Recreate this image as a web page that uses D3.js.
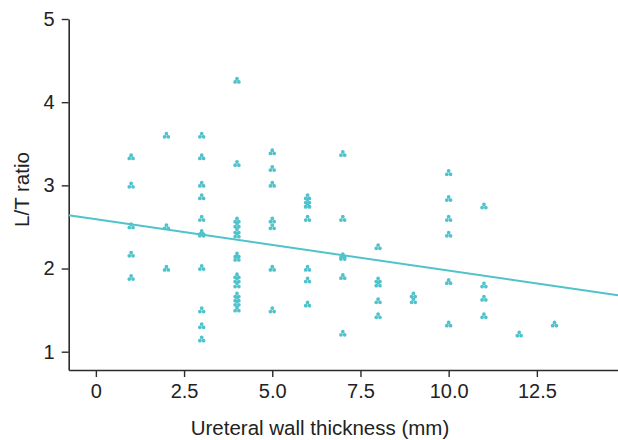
<!DOCTYPE html>
<html>
<head>
<meta charset="utf-8">
<script src="https://cdn.jsdelivr.net/npm/d3@7"></script>
<style>
  html, body { margin: 0; padding: 0; background: #fff; }
  svg text { font-family: "Liberation Sans", Arial, sans-serif; fill: #222; }
</style>
</head>
<body>
<svg id="chart" width="618" height="440"></svg>
<script>
// thickness (mm) and L/T ratio, one entry per patient
const thickness = [
  1, 1, 1, 1, 1,
  2, 2, 2,
  3, 3, 3, 3, 3, 3, 3, 3, 3, 3, 3,
  4, 4, 4, 4, 4, 4, 4, 4, 4, 4, 4, 4, 4, 4, 4,
  5, 5, 5, 5, 5, 5, 5,
  6, 6, 6, 6, 6, 6, 6, 6,
  7, 7, 7, 7, 7, 7,
  8, 8, 8, 8, 8,
  9, 9,
  10, 10, 10, 10, 10, 10,
  11, 11, 11, 11,
  12,
  13
];
const ltRatio = [
  3.34, 3.0, 2.51, 2.17, 1.89,
  3.6, 2.5, 2.0,
  3.6, 3.34, 3.01, 2.86, 2.6, 2.43, 2.41, 2.01, 1.5, 1.31, 1.15,
  4.26, 3.26, 2.58, 2.52, 2.45, 2.40, 2.16, 2.12, 1.91, 1.86, 1.80, 1.68, 1.63, 1.58, 1.51,
  3.4, 3.2, 3.01, 2.58, 2.5, 2.0, 1.5,
  2.86, 2.81, 2.76, 2.6, 2.0, 1.86, 1.57, 2.76,
  3.38, 2.6, 2.15, 2.13, 1.9, 1.22,
  2.26, 1.86, 1.81, 1.61, 1.43,
  1.68, 1.61,
  3.15, 2.84, 2.6, 2.41, 1.84, 1.33,
  2.75, 1.8, 1.64, 1.43,
  1.21,
  1.33
];
// fitted line: intercept and slope
const fitIntercept = 2.592;
const fitSlope = -0.0617;

const xTicks = [0, 2.5, 5, 7.5, 10, 12.5];
const xTickLabels = ["0", "2.5", "5.0", "7.5", "10.0", "12.5"];
const yTicks = [1, 2, 3, 4, 5];

const teal = "#4fc3cb";
const axisColor = "#2b2b2b";

const svg = d3.select("#chart");

const x = d3.scaleLinear().domain([-0.77, 14.8]).range([68.7, 618]);
const y = d3.scaleLinear().domain([0.78, 5]).range([370, 19]);

// x axis
const xAxis = svg.append("g")
  .attr("transform", `translate(0,${y.range()[0]})`)
  .call(d3.axisBottom(x).tickValues(xTicks)
    .tickFormat((d, i) => xTickLabels[i])
    .tickSize(7).tickSizeOuter(0).tickPadding(7));

// y axis
const yAxis = svg.append("g")
  .attr("transform", `translate(${x.range()[0]},0)`)
  .call(d3.axisLeft(y).tickValues(yTicks)
    .tickFormat(d3.format("d"))
    .tickSize(7).tickSizeOuter(0).tickPadding(7));

[xAxis, yAxis].forEach(a => {
  a.select(".domain").attr("stroke", axisColor).attr("stroke-width", 1.6);
  a.selectAll(".tick line").attr("stroke", axisColor).attr("stroke-width", 1.4);
  a.selectAll(".tick text").style("font-size", "20px").attr("fill", "#222");
});

// regression line
const fitLine = d3.line().x(d => x(d)).y(d => y(fitIntercept + fitSlope * d));
svg.append("path")
  .datum(x.domain())
  .attr("d", fitLine)
  .attr("fill", "none")
  .attr("stroke", teal)
  .attr("stroke-width", 2);

// club-shaped marker, three small lobes
const club = {
  draw(ctx, size) {
    const r = Math.sqrt(size) / 4.2;
    const lobes = [[0, -r * 1.0], [-r * 1.0, r * 0.75], [r * 1.0, r * 0.75]];
    lobes.forEach(([cx, cy]) => {
      ctx.moveTo(cx + r, cy);
      ctx.arc(cx, cy, r, 0, 2 * Math.PI);
    });
  }
};
const marker = d3.symbol().type(club).size(62);

svg.append("g")
  .selectAll("path")
  .data(thickness.map((t, i) => [t, ltRatio[i]]))
  .join("path")
  .attr("transform", d => `translate(${x(d[0])},${y(d[1])})`)
  .attr("d", marker)
  .attr("fill", teal);

// axis titles
svg.append("text")
  .attr("x", 320)
  .attr("y", 435)
  .attr("text-anchor", "middle")
  .style("font-size", "20.5px")
  .text("Ureteral wall thickness (mm)");

svg.append("text")
  .attr("transform", `translate(29,${y(2.95)}) rotate(-90)`)
  .attr("text-anchor", "middle")
  .style("font-size", "20.5px")
  .text("L/T ratio");
</script>
</body>
</html>
